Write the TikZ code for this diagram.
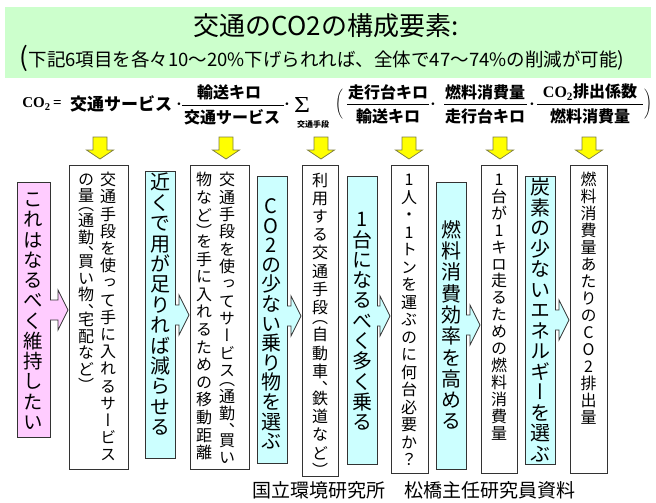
\documentclass[tikz,border=0pt]{standalone}
\usepackage{fontspec}
\usepackage{graphicx}
\usetikzlibrary{calc}
\newfontfamily\jp{Noto Sans CJK JP}
\newfontfamily\jpv[RawFeature=+vert]{Noto Sans CJK JP}
\newfontfamily\tnr{Liberation Serif}
\definecolor{tgreen}{HTML}{CCFFCC}
\definecolor{tpink}{HTML}{FFCCFF}
\definecolor{tcyan}{HTML}{CCFFFF}
\definecolor{tyel}{HTML}{FFFF00}
\definecolor{yedge}{HTML}{7F7F40}
\definecolor{edge}{HTML}{333333}
\ExplSyntaxOn
\dim_new:N \l_vt_p_dim
\dim_new:N \l_vt_w_dim
\cs_new_protected:Npn \vt_put:n #1 { \hbox_to_wd:nn {\l_vt_w_dim} { \hss \smash{#1} \hss } }
\cs_new_protected:Npn \vt_mid:n #1
 {
  \skip_vertical:n { 0.5\l_vt_p_dim + 0.38em }
  \vt_put:n {#1}
  \skip_vertical:n { 0.5\l_vt_p_dim - 0.38em }
 }
\cs_new_protected:Npn \vt_top:n #1
 {
  \skip_vertical:n { 0.88em }
  \vt_put:n {#1}
  \skip_vertical:n { 0.5\l_vt_p_dim - 0.88em }
 }
\cs_new_protected:Npn \vt_bot:n #1
 {
  \skip_vertical:n { 0.5\l_vt_p_dim - 0.12em }
  \vt_put:n {#1}
  \skip_vertical:n { 0.12em }
 }
\cs_new_protected:Npn \vt_char:n #1
 {
  \str_case:nnF {#1}
   {
    {、}{ \vt_top:n {#1} }
    {）}{ \vt_top:n {#1} }
    {（}{ \vt_bot:n {#1} }
   }
   { \vt_mid:n {#1} }
 }
\NewDocumentCommand \vtext { m m m }
 {
  \vbox:n
   {
    \fontsize{#1}{#1}\selectfont \jpv
    \dim_set:Nn \l_vt_p_dim {#2}
    \dim_set:Nn \l_vt_w_dim {1.2em}
    \offinterlineskip
    \tl_map_function:nN {#3} \vt_char:n
   }
 }
\ExplSyntaxOff
\newcommand\fj{\jp\bfseries\fontsize{16}{16}\selectfont}
\newcommand\fdot{\tnr\bfseries\fontsize{16}{16}\selectfont ·}
\newcommand\ydown[1]{\filldraw[yarr] ($(#1)+(-7,-22)$) -- ($(#1)+(7,-22)$) -- ($(#1)+(7,-9)$) -- ($(#1)+(13.5,-9)$) -- (#1) -- ($(#1)+(-13.5,-9)$) -- ($(#1)+(-7,-9)$) -- cycle;}
\newcommand\barrow[4]{%
  \coordinate (#2-o) at (#2.east |- 0,#4);
  \coordinate (#2-t) at ($(#3.west |- 0,#4)+(-1,0)$);
  \fill[#1] ($(#2-o)+(-1.2,-10)$) -- ($(#2-t)+(-10,-10)$) -- ($(#2-t)+(-10,-20)$) -- (#2-t) -- ($(#2-t)+(-10,20)$) -- ($(#2-t)+(-10,10)$) -- ($(#2-o)+(-1.2,10)$) -- cycle;
  \draw[arrline] ($(#2-o)+(0,-10)$) -- ($(#2-t)+(-10,-10)$) -- ($(#2-t)+(-10,-20)$) -- (#2-t) -- ($(#2-t)+(-10,20)$) -- ($(#2-t)+(-10,10)$) -- ($(#2-o)+(0,10)$);
}
\begin{document}
\begin{tikzpicture}[x=1pt,y=-1pt,
  every node/.style={inner sep=0pt, outer sep=0pt},
  boxbase/.style={draw=edge, line width=0.8pt, rectangle},
  wbox/.style={boxbase, fill=white},
  pbox/.style={boxbase, fill=tpink},
  cbox/.style={boxbase, fill=tcyan},
  yarr/.style={fill=tyel, draw=yedge, line width=0.7pt, line join=miter},
  arrline/.style={draw=edge, line width=0.8pt, line join=miter},
  fbar/.style={line width=0.9pt, draw=black}]
\useasboundingbox (0,0) rectangle (656,503);
% title
\node[rectangle, fill=tgreen, minimum width=646pt, minimum height=71pt] (tb) at (328,42.5) {};
\node (title) at (326,26) {\jp\fontsize{26}{26}\selectfont 交通のCO2の構成要素:};
\node (sub) at (322,58) {\jp\fontsize{18.5}{18.5}\selectfont{\fontsize{26}{26}\selectfont(}下記6項目を各々10～20\%下げられれば、全体で47～74\%の削減が可能{\fontsize{19.5}{19.5}\selectfont)}};
% formula
\node (co2) at (42,104) {\tnr\bfseries\fontsize{15}{15}\selectfont CO\textsubscript{2}\,=};
\node (fts) at (121,104) {\jp\bfseries\fontsize{17}{17}\selectfont 交通サービス};
\node (d1) at (179,106) {\fdot};
\node (n1) at (229,92) {\fj 輸送キロ};
\node (m1) at (232,117) {\fj 交通サービス};
\draw[fbar] (182,105) -- (284,105);
\node (d2) at (287,106) {\fdot};
\node (sig) at (302,105) {\resizebox{16pt}{15pt}{\tnr Σ}};
\node (sigsub) at (313,124) {\jp\bfseries\fontsize{8}{8}\selectfont 交通手段};
\node (lp) at (339,104) {\fontsize{13}{13}\selectfont$\Bigg($};
\node (n2) at (388,92) {\fj 走行台キロ};
\node (m2) at (388,116) {\fj 輸送キロ};
\draw[fbar] (347,104) -- (429,104);
\node (d3) at (433,106) {\fdot};
\node (n3) at (485,92) {\fj 燃料消費量};
\node (m3) at (485,116) {\fj 走行台キロ};
\draw[fbar] (444,104) -- (527,104);
\node (d4) at (532,106) {\fdot};
\node (n4) at (590,92) {\fj{\tnr CO\textsubscript{2}}排出係数};
\node (m4) at (590,116) {\fj 燃料消費量};
\draw[fbar] (537,104) -- (643,104);
\node (rp) at (648,104) {\fontsize{13}{13}\selectfont$\Bigg)$};
% boxes
\node[pbox, minimum width=33pt, minimum height=255pt] (P) at (33.5,309.5) {};
\node[wbox, minimum width=59pt, minimum height=304pt] (W1) at (98.5,317) {};
\node[cbox, minimum width=30pt, minimum height=287pt] (C1) at (160,314.5) {};
\node[wbox, minimum width=59pt, minimum height=304pt] (W2) at (219.5,317) {};
\node[cbox, minimum width=30pt, minimum height=287pt] (C2) at (272,319.5) {};
\node[wbox, minimum width=36pt, minimum height=311pt] (W3) at (320,320.5) {};
\node[cbox, minimum width=30pt, minimum height=288pt] (C3) at (362,320) {};
\node[wbox, minimum width=37pt, minimum height=308pt] (W4) at (409.5,319) {};
\node[cbox, minimum width=30pt, minimum height=287pt] (C4) at (451,325.5) {};
\node[wbox, minimum width=36pt, minimum height=308pt] (W5) at (499,319) {};
\node[cbox, minimum width=30pt, minimum height=288pt] (C5) at (540,320) {};
\node[wbox, minimum width=37pt, minimum height=308pt] (W6) at (588.5,319) {};
% block arrows
\barrow{tpink}{P}{W1}{310}
\barrow{tcyan}{C1}{W2}{315}
\barrow{tcyan}{C2}{W3}{316}
\barrow{tcyan}{C3}{W4}{316}
\barrow{tcyan}{C4}{W5}{325}
\barrow{tcyan}{C5}{W6}{320}
% texts
\node[anchor=north] (tP) at (33.5,189) {\vtext{19.5}{20.25pt}{これはなるべく維持したい}};
\node[anchor=north] (tW1r) at (108,171) {\vtext{16}{17.2pt}{交通手段を使って手に入れるサービス}};
\node[anchor=north] (tW1l) at (86,171) {\vtext{16}{16.5pt}{の量（通勤、買い物、宅配など）}};
\node[anchor=north] (tC1) at (160,172) {\vtext{20}{20.4pt}{近くで用が足りれば減らせる}};
\node[anchor=north] (tW2r) at (227,171) {\vtext{16}{17.35pt}{交通手段を使ってサービス（通勤、買い}};
\node[anchor=north] (tW2l) at (204,171) {\vtext{16}{17.6pt}{物など）を手に入れるための移動距離}};
\node[anchor=north] (tC2) at (271,196) {\vtext{20}{19.6pt}{CO2の少ない乗り物を選ぶ}};
\node[anchor=north] (tW3) at (320,171) {\vtext{16}{18.2pt}{利用する交通手段（自動車、鉄道など）}};
\node[anchor=north] (tC3) at (362,209) {\vtext{20}{20.3pt}{1台になるべく多く乗る}};
\node[anchor=north] (tW4) at (409,171) {\vtext{16}{17.5pt}{1人・1トンを運ぶのに何台必要か？}};
\node[anchor=north] (tC4) at (451,219) {\vtext{20}{21.3pt}{燃料消費効率を高める}};
\node[anchor=north] (tW5) at (499,171) {\vtext{16}{16.9pt}{1台が1キロ走るための燃料消費量}};
\node[anchor=north] (tC5) at (540,177) {\vtext{20}{20.5pt}{炭素の少ないエネルギーを選ぶ}};
\node[anchor=north] (tW6) at (588.5,171) {\vtext{16}{17pt}{燃料消費量あたりのCO2排出量}};
% yellow arrows
\coordinate (y1) at ($(W1.north)+(1.5,-6)$);
\coordinate (y2) at ($(W2.north)+(6.5,-6)$);
\coordinate (y3) at ($(W3.north)+(1,-6)$);
\coordinate (y4) at ($(W4.north)+(-0.5,-6)$);
\coordinate (y5) at ($(W5.north)+(1,-6)$);
\coordinate (y6) at ($(W6.north)+(0.5,-6)$);
\ydown{y1}\ydown{y2}\ydown{y3}\ydown{y4}\ydown{y5}\ydown{y6}
% footer
\node (foot) at (414,490) {\jp\fontsize{19}{19}\selectfont 国立環境研究所　松橋主任研究員資料};
\end{tikzpicture}
\end{document}
